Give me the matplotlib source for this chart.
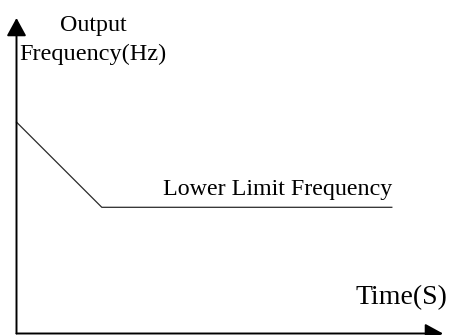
import matplotlib
matplotlib.use("Agg")
import matplotlib.pyplot as plt

# schematic values (arbitrary units on both axes)
time = [0.0, 2.0, 8.8]
freq = [6.7, 4.0, 4.0]

W, H = 452, 335
fig = plt.figure(figsize=(W / 100, H / 100), dpi=100)

def px(x, y):
    # pixel position (from top-left) -> figure fraction
    return x / W, 1 - y / H

# axes: origin at the corner of the drawn arrows
x0, y0 = 16.5, 333.5
x1, y1 = 443.0, 18.0
ax = fig.add_axes([x0 / W, 1 - y0 / H, (x1 - x0) / W, (y0 - y1) / H])
ax.set_xlim(0, 10)
ax.set_ylim(0, 10)
ax.axis("off")

ax.plot(time, freq, color="#2a2a2a", lw=0.9, clip_on=False)

arrow = dict(arrowstyle="-|>,head_length=0.55,head_width=0.3", color="black",
             lw=1.4, mutation_scale=20, shrinkA=0, shrinkB=0)
ax.annotate("", xy=(0, 1), xytext=(0, 0), xycoords="axes fraction",
            textcoords="axes fraction", arrowprops=arrow, annotation_clip=False)
ax.annotate("", xy=(1, 0), xytext=(0, 0), xycoords="axes fraction",
            textcoords="axes fraction", arrowprops=arrow, annotation_clip=False)

font = dict(family="Liberation Serif", color="black")
fig.text(*px(93, 31), "Output", ha="center", va="baseline", fontsize=17.3, **font)
fig.text(*px(19, 60), "Frequency(Hz)", ha="left", va="baseline", fontsize=17.5, **font)
fig.text(*px(163, 195), "Lower Limit Frequency", ha="left", va="baseline", fontsize=17.3, **font)
fig.text(*px(355, 304), "Time(S)", ha="left", va="baseline", fontsize=20, **font)

fig.savefig("out.png", dpi=100)
